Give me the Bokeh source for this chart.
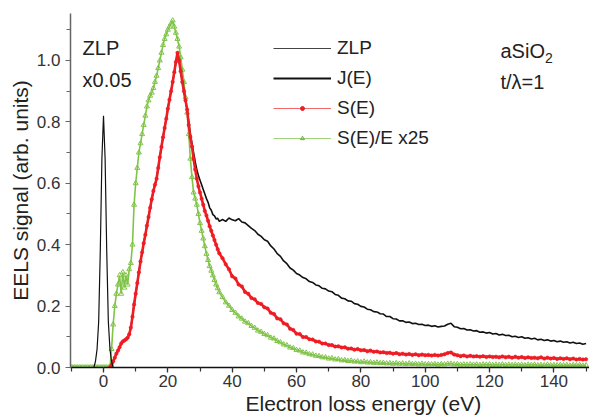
import numpy as np
from bokeh.plotting import figure
from bokeh.models import (Range1d, SingleIntervalTicker, Label, Legend, LegendItem,
                          NumeralTickFormatter, Title)
from bokeh.embed import file_html
from bokeh.resources import INLINE

# ---------------- data ----------------
energy_pre = np.arange(-10.0, 2.0, 0.5)      # -10 .. 1.5 eV
energy_fine = np.arange(2.0, 36.5, 0.5)      # 2 .. 36 eV
energy_coarse = np.arange(37.0, 151.0, 1.0)  # 37 .. 150 eV

zlp_energy = [-3.0, -2.5, -2.0, -1.5, -1.0, -0.5, 0.0, 0.5, 1.0, 1.5, 2.0, 2.5, 3.0]
zlp_signal = [0.0, 0.02, 0.06, 0.15, 0.38, 0.68, 0.82, 0.68, 0.38, 0.15, 0.06, 0.02, 0.0]

green_pre = [0.0] * 24

j_fine = [0.0, 0.008, 0.02, 0.032, 0.045, 0.055, 0.066, 0.078, 0.085, 0.088,
          0.092, 0.097, 0.108, 0.13, 0.165, 0.205, 0.24, 0.275, 0.31, 0.345,
          0.375, 0.405, 0.432, 0.462, 0.49, 0.52, 0.548, 0.575, 0.595, 0.615,
          0.65, 0.685, 0.718, 0.75, 0.78, 0.81, 0.843, 0.872, 0.9, 0.93,
          0.96, 0.995, 1.02, 1.0, 0.965, 0.93, 0.9, 0.87, 0.84, 0.8,
          0.76, 0.73, 0.7, 0.67, 0.645, 0.625, 0.61, 0.595, 0.58, 0.565,
          0.55, 0.538, 0.52, 0.512, 0.498, 0.494, 0.484, 0.486, 0.476]
j_coarse = [0.482, 0.476, 0.487, 0.481, 0.478, 0.485, 0.474, 0.471, 0.462, 0.453,
            0.446, 0.434, 0.427, 0.416, 0.411, 0.396, 0.386, 0.371, 0.362, 0.347,
            0.338, 0.324, 0.317, 0.306, 0.301, 0.293, 0.289, 0.28, 0.277, 0.269,
            0.266, 0.258, 0.256, 0.249, 0.247, 0.238, 0.235, 0.226, 0.224, 0.217,
            0.216, 0.208, 0.206, 0.199, 0.197, 0.19, 0.188, 0.182, 0.181, 0.175,
            0.174, 0.166, 0.166, 0.159, 0.158, 0.152, 0.152, 0.147, 0.148, 0.143,
            0.144, 0.14, 0.141, 0.137, 0.138, 0.134, 0.136, 0.132, 0.134, 0.135,
            0.141, 0.144, 0.133, 0.131, 0.126, 0.127, 0.122, 0.123, 0.119, 0.12,
            0.115, 0.116, 0.112, 0.114, 0.109, 0.111, 0.106, 0.108, 0.104, 0.105,
            0.1, 0.102, 0.098, 0.1, 0.095, 0.097, 0.093, 0.095, 0.09, 0.092,
            0.088, 0.09, 0.086, 0.088, 0.084, 0.086, 0.082, 0.084, 0.08, 0.082,
            0.078, 0.08, 0.076, 0.078]

s_fine = [0.0, 0.008, 0.02, 0.032, 0.045, 0.055, 0.066, 0.078, 0.085, 0.088,
          0.092, 0.097, 0.108, 0.13, 0.165, 0.205, 0.24, 0.275, 0.31, 0.345,
          0.375, 0.405, 0.432, 0.462, 0.49, 0.52, 0.548, 0.575, 0.595, 0.615,
          0.65, 0.685, 0.718, 0.75, 0.78, 0.81, 0.843, 0.872, 0.9, 0.93,
          0.962, 0.995, 1.025, 1.0, 0.965, 0.93, 0.9, 0.87, 0.84, 0.79,
          0.75, 0.72, 0.68, 0.645, 0.615, 0.59, 0.57, 0.55, 0.53, 0.51,
          0.495, 0.478, 0.46, 0.445, 0.43, 0.415, 0.4, 0.385, 0.372]
s_coarse = [0.356, 0.336, 0.32, 0.297, 0.29, 0.27, 0.264, 0.246, 0.24, 0.226,
            0.222, 0.21, 0.207, 0.196, 0.192, 0.178, 0.174, 0.16, 0.157, 0.144,
            0.14, 0.126, 0.122, 0.11, 0.109, 0.099, 0.099, 0.092, 0.091, 0.085,
            0.084, 0.078, 0.078, 0.073, 0.073, 0.068, 0.069, 0.065, 0.066, 0.061,
            0.062, 0.058, 0.06, 0.056, 0.057, 0.053, 0.055, 0.051, 0.052, 0.049,
            0.05, 0.047, 0.048, 0.045, 0.047, 0.043, 0.045, 0.042, 0.044, 0.041,
            0.043, 0.04, 0.042, 0.04, 0.041, 0.039, 0.041, 0.039, 0.041, 0.043,
            0.047, 0.049, 0.042, 0.04, 0.037, 0.039, 0.036, 0.038, 0.036, 0.037,
            0.035, 0.037, 0.034, 0.036, 0.034, 0.035, 0.033, 0.036, 0.033, 0.035,
            0.032, 0.035, 0.032, 0.034, 0.031, 0.033, 0.031, 0.032, 0.03, 0.033,
            0.029, 0.032, 0.029, 0.031, 0.028, 0.03, 0.028, 0.03, 0.027, 0.029,
            0.026, 0.028, 0.026, 0.027]

g_fine = [0.0, 0.06, 0.14, 0.2, 0.24, 0.27, 0.3, 0.24, 0.31, 0.26,
          0.3, 0.27, 0.32, 0.34, 0.4, 0.53, 0.6, 0.65, 0.7, 0.73,
          0.76, 0.79, 0.82, 0.85, 0.87, 0.885, 0.895, 0.91, 0.93, 0.95,
          0.975, 1.0, 1.025, 1.05, 1.07, 1.085, 1.1, 1.11, 1.12, 1.13,
          1.11, 1.09, 1.07, 1.045, 1.01, 0.97, 0.93, 0.88, 0.83, 0.76,
          0.68, 0.62, 0.57, 0.55, 0.53, 0.5, 0.47, 0.445, 0.42, 0.395,
          0.37, 0.35, 0.33, 0.315, 0.3, 0.285, 0.27, 0.258, 0.245]
g_coarse = [0.229, 0.212, 0.201, 0.187, 0.178, 0.166, 0.159, 0.149, 0.144, 0.135,
            0.129, 0.12, 0.116, 0.109, 0.105, 0.097, 0.094, 0.086, 0.082, 0.075,
            0.072, 0.065, 0.063, 0.057, 0.055, 0.049, 0.048, 0.043, 0.042, 0.038,
            0.037, 0.033, 0.033, 0.029, 0.03, 0.026, 0.027, 0.023, 0.024, 0.021,
            0.022, 0.019, 0.02, 0.017, 0.019, 0.016, 0.017, 0.015, 0.016, 0.014,
            0.015, 0.013, 0.014, 0.012, 0.014, 0.012, 0.013, 0.011, 0.013, 0.011,
            0.012, 0.01, 0.012, 0.01, 0.011, 0.01, 0.011, 0.009, 0.011, 0.01,
            0.012, 0.012, 0.01, 0.011, 0.009, 0.01, 0.009, 0.01, 0.009, 0.01,
            0.008, 0.01, 0.009, 0.01, 0.008, 0.009, 0.008, 0.01, 0.008, 0.009,
            0.008, 0.009, 0.008, 0.009, 0.007, 0.009, 0.008, 0.009, 0.007, 0.008,
            0.007, 0.009, 0.007, 0.008, 0.007, 0.008, 0.007, 0.008, 0.006, 0.008,
            0.007, 0.008, 0.006, 0.007]

x_label = "Electron loss energy (eV)"
y_label = "EELS signal (arb. units)"

# ---------------- assemble ----------------
e_main = np.concatenate([energy_fine, energy_coarse])
e_green = np.concatenate([energy_pre, energy_fine, energy_coarse])
j_sig = j_fine + j_coarse
s_sig = s_fine + s_coarse
g_sig = green_pre + g_fine + g_coarse

FONT = "Liberation Sans"
RED = "#ee1d23"
GREEN = "#80c447"
TXT = "#222222"

p = figure(width=589, height=416, output_backend="svg", toolbar_location=None,
           x_range=Range1d(-10.26, 151.07), y_range=Range1d(0.0, 1.153),
           min_border_left=70, min_border_right=0, min_border_top=13, min_border_bottom=49)
p.outline_line_color = None
p.grid.visible = False

r_g_line = p.line(e_green, g_sig, line_color=GREEN, line_width=1.6)
r_g_pts = p.scatter(e_green, g_sig, marker="triangle", size=5, line_color=GREEN,
                    fill_color=None, line_width=1)
r_j = p.line(e_main, j_sig, line_color="#111111", line_width=1.6)
r_s_line = p.line(e_main, s_sig, line_color=RED, line_width=2.6)
r_s_pts = p.scatter(e_main, s_sig, marker="circle", size=3.5, line_color=RED,
                    fill_color=RED, line_width=0.5)
r_zlp = p.line(zlp_energy, zlp_signal, line_color="#111111", line_width=1.2)

# legend-key renderers (a single point placed off the visible range)
OFF = [-500.0]
k_zlp = p.line(OFF, OFF, line_color="#444444", line_width=1)
k_j = p.line(OFF, OFF, line_color="#111111", line_width=1.8)
k_s_line = p.line(OFF, OFF, line_color="#f06a6a", line_width=1.2)
k_s_pt = p.scatter(OFF, OFF, marker="circle", size=4, line_color=RED, fill_color=RED)
k_g_line = p.line(OFF, OFF, line_color="#9fd27a", line_width=1.2)
k_g_pt = p.scatter(OFF, OFF, marker="triangle", size=4, line_color="#6aaa3a", fill_color=None)

# axes
p.xaxis.ticker = SingleIntervalTicker(interval=20, num_minor_ticks=2)
p.yaxis.ticker = SingleIntervalTicker(interval=0.2, num_minor_ticks=2)
p.yaxis.formatter = NumeralTickFormatter(format="0.0")
for ax in (p.xaxis, p.yaxis):
    ax.major_tick_in = 0
    ax.major_tick_out = 5
    ax.minor_tick_in = 0
    ax.minor_tick_out = 4
    ax.major_label_text_font = FONT
    ax.major_label_text_font_size = "17px"
    ax.major_label_text_color = "#333333"
    ax.axis_line_width = 1.5
    ax.major_tick_line_width = 1.2
    ax.minor_tick_line_width = 1.2
p.xaxis.major_label_standoff = 2
p.yaxis.major_label_standoff = 5
p.xaxis.axis_line_color = "#111111"
p.xaxis.major_tick_line_color = "#333333"
p.xaxis.minor_tick_line_color = "#333333"
p.yaxis.axis_line_color = "#666666"
p.yaxis.major_tick_line_color = "#666666"
p.yaxis.minor_tick_line_color = "#666666"

# y title on the axis, x title as a left-aligned title below (offset as in the reference)
p.yaxis.axis_label = y_label
p.yaxis.axis_label_text_font = FONT
p.yaxis.axis_label_text_font_size = "21px"
p.yaxis.axis_label_text_font_style = "normal"
p.yaxis.axis_label_text_color = TXT
p.yaxis.axis_label_standoff = 2

p.add_layout(Title(text=x_label, align="left", offset=175, standoff=0,
                   text_font=FONT, text_font_size="21px", text_font_style="normal",
                   text_color=TXT), "below")

# annotations
for txt, xx, yy in [("ZLP", -6.5, 1.041), ("x0.05", -6.5, 0.937),
                    ("aSiO", 123.4, 1.03), ("t/\u03bb=1", 123.4, 0.9305)]:
    p.add_layout(Label(x=xx, y=yy, text=txt, text_align="left", text_baseline="middle",
                       text_font=FONT, text_font_size="20px", text_color=TXT))
p.add_layout(Label(x=137.2, y=1.008, text="2", text_align="left", text_baseline="middle",
                   text_font=FONT, text_font_size="14px", text_color=TXT))

legend = Legend(items=[LegendItem(label="ZLP", renderers=[k_zlp]),
                       LegendItem(label="J(E)", renderers=[k_j]),
                       LegendItem(label="S(E)", renderers=[k_s_line, k_s_pt]),
                       LegendItem(label="S(E)/E x25", renderers=[k_g_line, k_g_pt])],
                location=(203, 218), padding=0, margin=0, spacing=8,
                glyph_width=58, glyph_height=10, label_height=22, label_standoff=6,
                label_text_font=FONT, label_text_font_size="19px",
                label_text_color=TXT, border_line_color=None,
                background_fill_alpha=0)
p.add_layout(legend)

open("out.html", "w").write(file_html(p, INLINE))
